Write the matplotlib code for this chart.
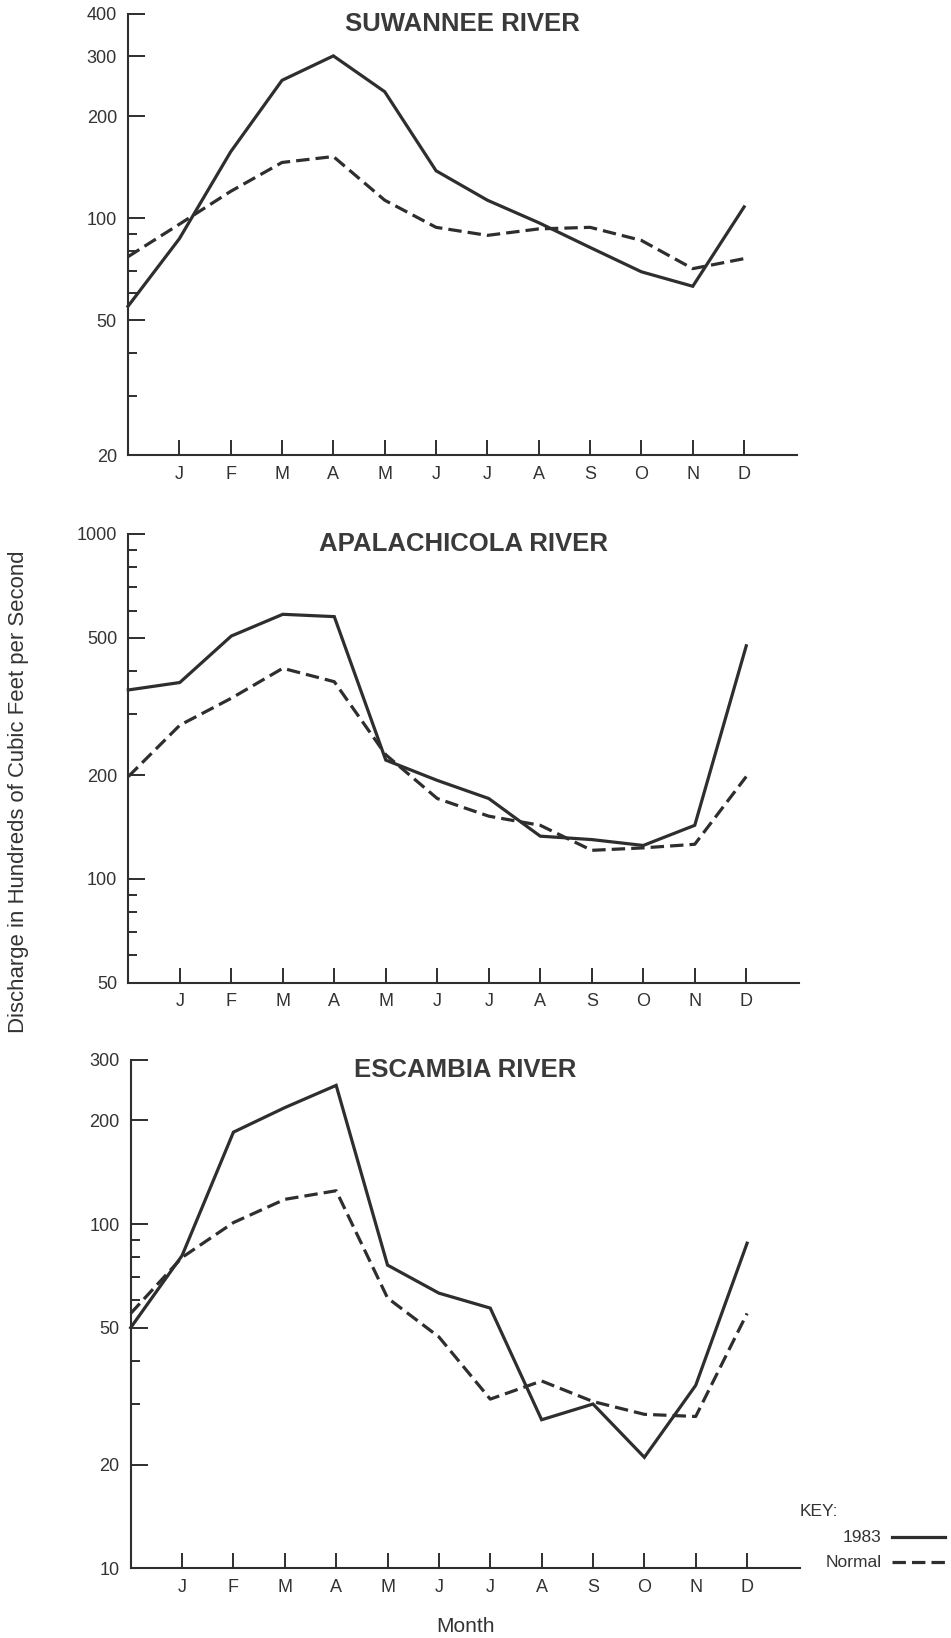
import matplotlib
matplotlib.use("Agg")
import matplotlib.pyplot as plt
from matplotlib.lines import Line2D
from matplotlib.ticker import NullFormatter

plt.rcParams["font.family"] = ["Liberation Sans", "DejaVu Sans"]

# ---- data (discharge, hundreds of cubic feet per second) ----
month_labels = ["J", "F", "M", "A", "M", "J", "J", "A", "S", "O", "N", "D"]
# first value is the starting level at the left edge, then Jan..Dec
suwannee_1983 = [55, 87, 157, 255, 301, 236, 138, 113, 97, 82, 69.5, 63, 108]
suwannee_normal = [77, 96, 120, 146, 152, 113, 94, 89, 93, 94, 86, 71, 76]

apalachicola_1983 = [353, 371, 506, 585, 576, 221, 193, 171, 133, 130, 125, 143, 474]
apalachicola_normal = [198, 279, 334, 408, 373, 229, 171, 152, 143, 121, 123, 126, 198]

escambia_1983 = [50, 81, 185, 218, 253, 76, 63, 57, 27, 30, 21, 34, 88]
escambia_normal = [55, 80, 101, 118, 125, 61, 47, 31, 35, 30.5, 28, 27.6, 55]

suwannee_major = [20, 50, 100, 200, 300, 400]
suwannee_minor = [30, 40, 60, 70, 80, 90]
apalachicola_major = [50, 100, 200, 500, 1000]
apalachicola_minor = [60, 70, 80, 90, 300, 400, 600, 700, 800, 900]
escambia_major = [10, 20, 50, 100, 200, 300]
escambia_minor = [30, 40, 60, 70, 80, 90]

# ---- styling ----
W, H = 951, 1638
INK = "#2e2e2e"
TXT = "#333333"
LW = 2.3
DASH = (0, (4.2, 1.9))

fig = plt.figure(figsize=(W / 100, H / 100), dpi=100)
fig.patch.set_facecolor("white")


def make_axes(left, right, top, bottom):
    return fig.add_axes([left / W, 1 - bottom / H, (right - left) / W, (bottom - top) / H])


def draw_panel(ax, title, y1983, ynormal, major, minor, ylim, height_px):
    x = list(range(len(y1983)))
    ax.plot(x, y1983, color=INK, lw=LW, solid_joinstyle="miter", clip_on=False)
    ax.plot(x, ynormal, color=INK, lw=LW, linestyle=DASH, clip_on=False)
    ax.set_yscale("log")
    ax.set_ylim(*ylim)
    ax.set_xlim(0, 13.03)
    ax.set_yticks(major, labels=[str(v) for v in major])
    ax.set_yticks(minor, minor=True)
    ax.yaxis.set_minor_formatter(NullFormatter())
    ax.set_xticks(range(1, 13), labels=month_labels)
    for s in ("top", "right"):
        ax.spines[s].set_visible(False)
    for s in ("left", "bottom"):
        ax.spines[s].set_linewidth(1.5)
        ax.spines[s].set_color(INK)
    ax.tick_params(axis="y", which="major", direction="in", length=12.5, width=1.4,
                   pad=8, labelsize=13, color=INK, labelcolor=TXT)
    ax.tick_params(axis="y", which="minor", direction="in", length=6.5, width=1.4,
                   color=INK)
    ax.tick_params(axis="x", which="major", direction="in", length=11, width=1.4,
                   pad=7.5, labelsize=13, color=INK, labelcolor=TXT)
    ax.text(0.5, 1 - 10 / height_px, title, transform=ax.transAxes, ha="center",
            va="center", fontsize=18.5, fontweight="bold", color="#3a3a3a")
    ax.set_facecolor("none")


ax1 = make_axes(128, 797, 14, 455.3)
draw_panel(ax1, "SUWANNEE RIVER", suwannee_1983, suwannee_normal,
           suwannee_major, suwannee_minor, (20, 400), 441.3)

ax2 = make_axes(128.3, 799.3, 534, 982.7)
draw_panel(ax2, "APALACHICOLA RIVER", apalachicola_1983, apalachicola_normal,
           apalachicola_major, apalachicola_minor, (50, 1000), 448.7)

ax3 = make_axes(130.7, 800, 1059.9, 1568.2)
draw_panel(ax3, "ESCAMBIA RIVER", escambia_1983, escambia_normal,
           escambia_major, escambia_minor, (10, 300), 508.3)

# shared axis titles
fig.text(18.5 / W, 1 - 791.5 / H, "Discharge in Hundreds of Cubic Feet per Second",
         rotation=90, ha="center", va="center", fontsize=15.9, color=TXT)
fig.text(466 / W, 1 - 1627 / H, "Month", ha="center", va="center",
         fontsize=15, color=TXT)

# key
fig.text(800 / W, 1 - 1512 / H, "KEY:", ha="left", va="center", fontsize=12.5, color=TXT)
fig.text(881.7 / W, 1 - 1537 / H, "1983", ha="right", va="center", fontsize=12.5, color=TXT)
fig.text(881.7 / W, 1 - 1562.4 / H, "Normal", ha="right", va="center", fontsize=12.5, color=TXT)
fig.add_artist(Line2D([891.7 / W, 945 / W], [1 - 1537 / H, 1 - 1537 / H],
                      transform=fig.transFigure, color=INK, lw=LW))
fig.add_artist(Line2D([891.7 / W, 945 / W], [1 - 1562.4 / H, 1 - 1562.4 / H],
                      transform=fig.transFigure, color=INK, lw=LW, linestyle=DASH))

fig.savefig("out.png", dpi=100, facecolor="white")
